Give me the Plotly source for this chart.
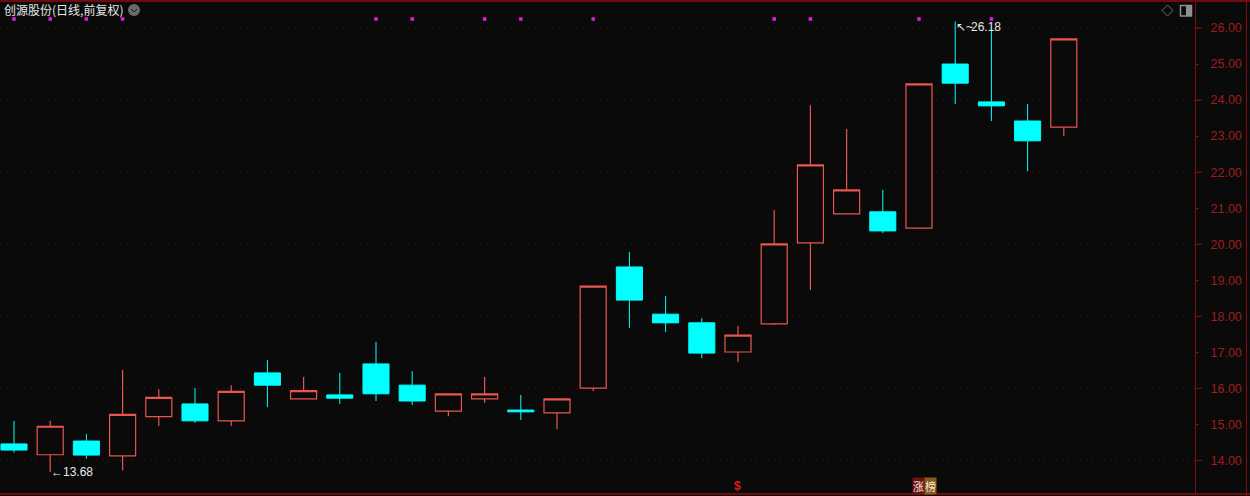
import plotly.graph_objects as go

BG = "#0a0a0a"
RED = "#e8564f"
CYAN = "#00ffff"
AXIS = "#7a1010"
LABEL = "#a01c1c"
W, H = 1250, 496
L_PX, R_PX, T_PX, B_PX = 0, 1195, 2, 493

idx = list(range(30))
opens = [14.46,14.16,14.54,14.13,15.22,15.57,15.10,16.43,15.71,15.82,16.68,16.09,15.37,15.71,15.40,15.32,
         16.01,19.37,18.06,17.82,17.01,17.79,20.04,20.84,20.90,20.45,25.00,23.95,23.42,23.25]
closes = [14.29,14.95,14.15,15.28,15.75,15.10,15.92,16.09,15.94,15.73,15.85,15.65,15.85,15.85,15.35,15.71,
          18.84,18.45,17.82,16.98,17.48,20.01,22.20,21.51,20.37,24.45,24.47,23.84,22.87,25.70]
highs = [15.10,15.10,14.74,16.51,15.98,16.01,16.09,16.79,16.32,16.43,17.29,16.48,15.85,16.32,15.82,15.71,
         18.84,19.79,18.56,17.95,17.73,20.95,23.86,23.20,21.51,24.45,26.18,25.97,23.89,25.70]
lows = [14.22,13.68,14.05,13.72,14.96,15.04,14.96,15.48,15.71,15.57,15.65,15.54,15.23,15.60,15.12,14.87,
        15.93,17.68,17.57,16.84,16.73,17.76,18.73,20.84,20.31,20.45,23.89,23.42,22.03,23.00]

marker_idx = [0,1,2,3,10,11,13,14,16,21,22,25,27]
marker_level = 26.25
grid_levels = [14,16,18,20,22,24,26]
tick_levels = list(range(14,27))
tick_labels = [f"{v:.2f}" for v in tick_levels]
title_text = "创源股份(日线,前复权)"
low_label = "←13.68"
high_flag = "↖~"
high_label = "26.18"

# value <-> pixel calibration: 26 at y=28, 14 at y=460.5
px_per_unit = (460.5 - 28) / 12
y_top = 26 + (28 - T_PX) / px_per_unit
y_bot = 14 - (B_PX - 460.5) / px_per_unit
step = 36.2
x_left = (L_PX - 14) / step
x_right = (R_PX - 14) / step

# paper coordinates are relative to the plot area
def px(x):
    return (x - L_PX) / (R_PX - L_PX)
def py(y):
    return 1 - (y - T_PX) / (B_PX - T_PX)

fig = go.Figure()
fig.add_trace(go.Candlestick(
    x=idx, open=opens, high=highs, low=lows, close=closes,
    increasing=dict(line=dict(color=RED, width=1.2), fillcolor=BG),
    decreasing=dict(line=dict(color=CYAN, width=1), fillcolor=CYAN),
    whiskerwidth=0, showlegend=False, hoverinfo="skip",
))
fig.add_trace(go.Scatter(
    x=marker_idx, y=[marker_level]*len(marker_idx), mode="markers",
    marker=dict(symbol="square", size=3.5, color="#e020e0", line=dict(width=0)),
    showlegend=False, hoverinfo="skip",
))

shapes = []
for g in grid_levels:
    shapes.append(dict(type="line", xref="paper", yref="y", x0=0, x1=1, y0=g, y1=g,
                       line=dict(color="#5a1414", width=1, dash="1px 5px"), layer="below"))
    shapes.append(dict(type="line", xref="paper", yref="y", x0=px(1195), x1=px(1202), y0=g, y1=g,
                       line=dict(color=AXIS, width=1)))

def pline(x0, y0, x1, y1, color=AXIS, width=1):
    return dict(type="line", xref="paper", yref="paper", x0=px(x0), x1=px(x1), y0=py(y0), y1=py(y1),
                line=dict(color=color, width=width))

shapes += [
    pline(0, 1, W, 1, "#6e0c0c", 2),
    pline(0, 494, W, 494, "#6e0c0c", 2),
    pline(1246.5, 0, 1246.5, H, AXIS, 1),
    # chevron button
    dict(type="circle", xref="paper", yref="paper", x0=px(128), x1=px(140), y0=py(16), y1=py(4),
         fillcolor="#6a6a6a", line=dict(width=0)),
    dict(type="path", xref="paper", yref="paper",
         path=f"M {px(131)} {py(9)} L {px(134)} {py(12)} L {px(137)} {py(9)}",
         line=dict(color="#1a1a1a", width=1)),
    # diamond icon
    dict(type="path", xref="paper", yref="paper",
         path=f"M {px(1167.5)} {py(5)} L {px(1173)} {py(10.5)} L {px(1167.5)} {py(16)} L {px(1162)} {py(10.5)} Z",
         line=dict(color="#707070", width=1)),
    # panel icon
    dict(type="rect", xref="paper", yref="paper", x0=px(1180.5), x1=px(1191.5), y0=py(16), y1=py(5.5),
         line=dict(color="#909090", width=1.5)),
    dict(type="rect", xref="paper", yref="paper", x0=px(1186), x1=px(1191.5), y0=py(16), y1=py(5.5),
         fillcolor="#909090", line=dict(width=0)),
]

annotations = [
    dict(xref="paper", yref="paper", x=px(2), y=py(9), xanchor="left", yanchor="middle", showarrow=False,
         text=title_text, font=dict(family="Noto Sans CJK SC", size=12, color="#e8e8e8")),
    dict(xref="x", yref="y", x=1, y=13.68, xanchor="left", yanchor="middle", showarrow=False, xshift=-1,
         text=low_label, font=dict(family="Liberation Sans", size=12, color="#e8e8e8")),
    dict(xref="x", yref="y", x=26, y=26.18, xanchor="left", yanchor="top", showarrow=False, xshift=-1, yshift=4,
         text=high_flag, font=dict(family="Liberation Sans", size=12, color="#e8e8e8")),
    dict(xref="paper", yref="paper", x=px(969), y=py(27), xanchor="left", yanchor="middle", showarrow=False,
         text=high_label, font=dict(family="Liberation Sans", size=12, color="#e8e8e8")),
    dict(xref="paper", yref="paper", x=px(737), y=py(486), xanchor="center", yanchor="middle", showarrow=False,
         text="<b>$</b>", font=dict(family="Liberation Sans", size=12, color="#e01818")),
    dict(xref="paper", yref="paper", x=px(918.5), y=py(486), xanchor="center", yanchor="middle", showarrow=False,
         text="涨", bgcolor="#701010", borderpad=0, font=dict(family="Noto Sans CJK SC", size=11, color="#f4e8e0")),
    dict(xref="paper", yref="paper", x=px(930.5), y=py(486), xanchor="center", yanchor="middle", showarrow=False,
         text="榜", bgcolor="#8a5a18", borderpad=0, font=dict(family="Noto Sans CJK SC", size=11, color="#f4e8e0")),
]

fig.update_layout(
    width=W, height=H, autosize=False,
    margin=dict(l=L_PX, r=W-R_PX, t=T_PX, b=H-B_PX, pad=0),
    paper_bgcolor=BG, plot_bgcolor=BG,
    boxgap=0.28, boxgroupgap=0, showlegend=False,
    shapes=shapes, annotations=annotations,
    xaxis=dict(range=[x_left, x_right], visible=False, rangeslider=dict(visible=False), fixedrange=True),
    yaxis=dict(range=[y_bot, y_top], side="right", showgrid=False, zeroline=False,
               tickmode="array", tickvals=tick_levels, ticktext=tick_labels,
               ticks="outside", ticklen=3, tickcolor=AXIS, tickwidth=1,
               showline=True, linecolor=AXIS, linewidth=1,
               ticklabelstandoff=9,
               tickfont=dict(family="Liberation Sans", size=12.5, color=LABEL), fixedrange=True),
)

fig.write_html("out.html", config=dict(displayModeBar=False),
               post_script="document.body.style.margin='0';document.body.style.overflow='hidden';document.body.style.background='#0a0a0a';")
